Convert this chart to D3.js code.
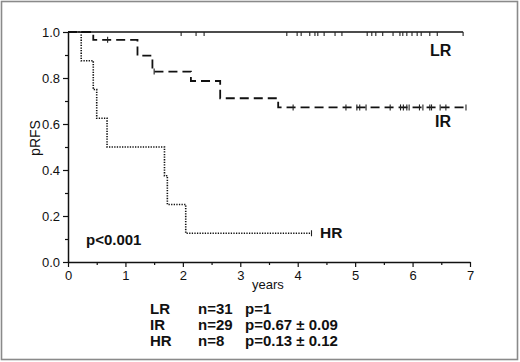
<!DOCTYPE html>
<html>
<head>
<meta charset="utf-8">
<script src="https://cdn.jsdelivr.net/npm/d3@7"></script>
<style>
    body { margin: 0; background: #fff; }
    text { font-family: "Liberation Sans", Arial, sans-serif; fill: #111; }
</style>
</head>
<body>
<div class="vis-km"></div>
<script>
// axis ticks
const xTicks = [0, 1, 2, 3, 4, 5, 6, 7];
const yTicks = [0, 0.2, 0.4, 0.6, 0.8, 1.0];

// LR: no events, censored only
const lrTimes = [0];
const lrSurv = [1];
const lrEnd = 6.88;
const lrCensor = [1.97, 2.23, 2.37, 3.81, 3.99, 4.06, 4.21, 4.30, 4.35, 4.46, 4.65, 4.77, 5.21, 5.29, 5.36,
    5.48, 5.66, 5.78, 5.83, 5.90, 5.99, 6.08, 6.15, 6.30, 6.43, 6.88];

// IR
const irTimes = [0, 0.44, 1.21, 1.47, 2.14, 2.65, 3.66];
const irSurv = [1, 0.966, 0.897, 0.828, 0.787, 0.712, 0.672];
const irEnd = 6.93;
const irCensor = [0.69, 1.50, 3.92, 4.84, 5.03, 5.08, 5.19, 5.61, 5.79, 5.84, 5.90, 5.94, 6.12, 6.18,
    6.30, 6.33, 6.48, 6.58, 6.93];

// HR
const hrTimes = [0, 0.23, 0.44, 0.50, 0.68, 1.68, 1.73, 2.05];
const hrSurv = [1, 0.875, 0.75, 0.625, 0.5, 0.375, 0.25, 0.125];
const hrEnd = 4.24;
const hrCensor = [4.24];

// table below
const groups = ['LR', 'IR', 'HR'];
const counts = ['n=31', 'n=29', 'n=8'];
const probs = ['p=1', 'p=0.67 \u00b1 0.09', 'p=0.13 \u00b1 0.12'];

const W = 520, H = 362;
const svg = d3.select('.vis-km')
    .append('svg')
    .attr('width', W)
    .attr('height', H);

// outer frame
svg.append('rect')
    .attr('x', 1.5).attr('y', 1.5)
    .attr('width', 516).attr('height', 358)
    .attr('fill', 'none')
    .attr('stroke', '#8a8a8a')
    .attr('stroke-width', 1.6);

let x = d3.scaleLinear().domain([0, 7]).range([68, 470]);
let y = d3.scaleLinear().domain([0, 1]).range([262, 32]);

// minor ticks first, then major axes
svg.append('g')
    .attr('transform', 'translate(0,262)')
    .call(d3.axisBottom(x).tickValues(d3.range(0.5, 7, 1)).tickSize(3).tickFormat(''))
    .call(g => g.select('.domain').remove());
svg.append('g')
    .attr('transform', 'translate(68,0)')
    .call(d3.axisLeft(y).tickValues(d3.range(0.1, 1, 0.2)).tickSize(3).tickFormat(''))
    .call(g => g.select('.domain').remove());

let xAxis = svg.append('g')
    .attr('class', 'x_axis')
    .attr('transform', 'translate(0,262)')
    .call(d3.axisBottom(x).tickValues(xTicks).tickSize(5).tickSizeOuter(0).tickPadding(4).tickFormat(d3.format('d')));
let yAxis = svg.append('g')
    .attr('class', 'y_axis')
    .attr('transform', 'translate(68,0)')
    .call(d3.axisLeft(y).tickValues(yTicks).tickSize(5).tickSizeOuter(0).tickPadding(3).tickFormat(d3.format('.1f')));

svg.selectAll('.x_axis, .y_axis').selectAll('text')
    .attr('font-size', 13)
    .style('font-family', '"Liberation Sans", Arial, sans-serif')
    .attr('fill', '#222');
svg.selectAll('g').selectAll('path, line')
    .attr('stroke', '#111')
    .attr('stroke-width', 1.2);
svg.selectAll('.domain').attr('stroke-width', 1.5);

// axis titles
svg.append('text')
    .attr('transform', 'translate(40,138) rotate(-90)')
    .attr('text-anchor', 'middle')
    .attr('font-size', 14)
    .text('pRFS');
svg.append('text')
    .attr('x', 252).attr('y', 289)
    .attr('font-size', 13)
    .text('years');

// curves
const stepLine = d3.line()
    .x(d => x(d[0]))
    .y(d => y(d[1]))
    .curve(d3.curveStepAfter);

function curvePoints(times, surv, end) {
    let pts = times.map((t, i) => [t, surv[i]]);
    pts.push([end, surv[surv.length - 1]]);
    return pts;
}

function survAt(times, surv, t) {
    let s = surv[0];
    times.forEach((tt, i) => { if (tt <= t) s = surv[i]; });
    return s;
}

const curves = [
    { times: lrTimes, surv: lrSurv, end: lrEnd, censor: lrCensor, dash: null, width: 1.5, tick: [0, 4] },
    { times: irTimes, surv: irSurv, end: irEnd, censor: irCensor, dash: '9,5', width: 1.8, tick: [-3, 3] },
    { times: hrTimes, surv: hrSurv, end: hrEnd, censor: hrCensor, dash: '1.3,1.3', width: 1.6, tick: [-3, 3] }
];

curves.forEach(c => {
    svg.append('path')
        .attr('d', stepLine(curvePoints(c.times, c.surv, c.end)))
        .attr('fill', 'none')
        .attr('stroke', '#111')
        .attr('stroke-width', c.width)
        .attr('stroke-dasharray', c.dash);
    svg.selectAll(null)
        .data(c.censor)
        .enter()
        .append('line')
        .attr('x1', d => x(d)).attr('x2', d => x(d))
        .attr('y1', d => y(survAt(c.times, c.surv, d)) + c.tick[0])
        .attr('y2', d => y(survAt(c.times, c.surv, d)) + c.tick[1])
        .attr('stroke', '#222')
        .attr('stroke-width', 1.1);
});

// labels
const boldText = (tx, ty, s, size) => svg.append('text')
    .attr('x', tx).attr('y', ty)
    .attr('font-size', size || 15)
    .attr('font-weight', 'bold')
    .text(s);

boldText(430, 56, 'LR', 16);
boldText(435, 127, 'IR', 16);
boldText(320, 238, 'HR', 15.5);
boldText(86, 245, 'p<0.001', 15);

groups.forEach((g, i) => {
    boldText(150, 314 + i * 16, g);
    boldText(198, 314 + i * 16, counts[i]);
    boldText(245, 314 + i * 16, probs[i]);
});
</script>
</body>
</html>
